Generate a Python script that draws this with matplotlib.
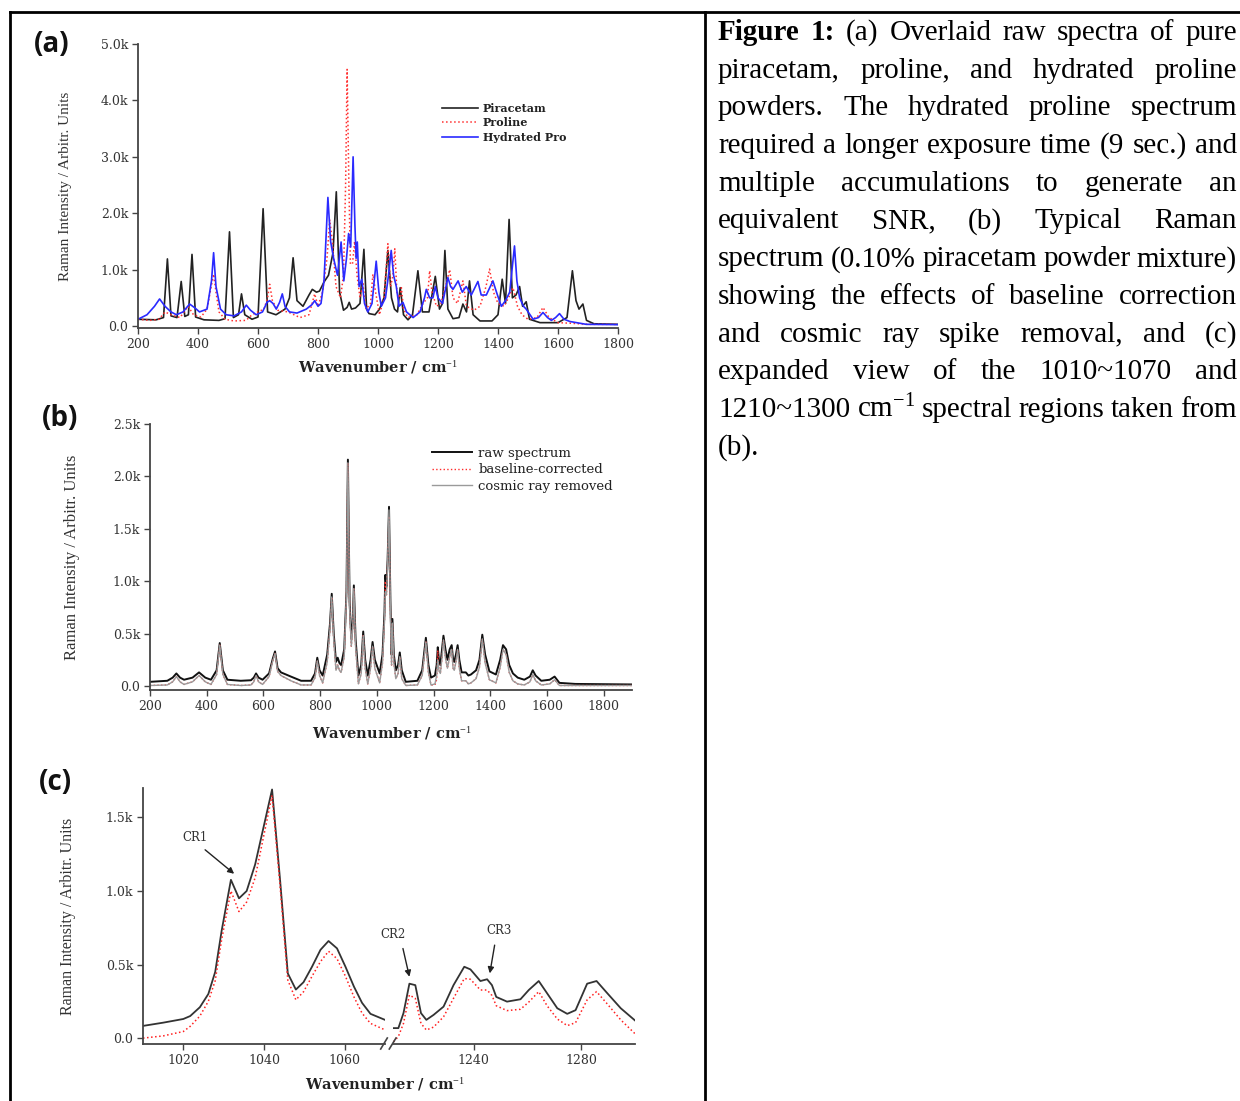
import numpy as np
import matplotlib.pyplot as plt
from matplotlib.lines import Line2D
from matplotlib.ticker import FuncFormatter

W, H = 1240, 1101

# ---------------- panel (a): raw spectra of the pure powders ----------------
wn_pir = [200, 260, 285, 298, 310, 330, 344, 356, 368, 380, 392, 420, 470, 490, 505, 518,
          535, 545, 556, 580, 600, 617, 632, 660, 690, 705, 717, 730, 750, 770, 781, 795,
          805, 820, 835, 850, 861, 872, 885, 897, 904, 912, 925, 940, 953, 962, 970, 990,
          1005, 1020, 1033, 1045, 1055, 1065, 1074, 1085, 1100, 1115, 1133, 1148, 1170, 1191,
          1205, 1215, 1223, 1233, 1250, 1270, 1283, 1295, 1305, 1317, 1340, 1380, 1400, 1414,
          1425, 1437, 1448, 1460, 1472, 1482, 1494, 1505, 1540, 1600, 1630, 1648, 1660, 1670,
          1683, 1695, 1720, 1800]
int_pir = [120, 110, 150, 1190, 180, 150, 790, 170, 200, 1270, 160, 110, 100, 130, 1670, 150,
           200, 570, 200, 120, 160, 2080, 250, 200, 300, 500, 1210, 450, 350, 550, 650, 600,
           620, 780, 900, 1300, 2380, 600, 280, 330, 420, 300, 320, 400, 1360, 300, 220, 200,
           300, 500, 1340, 500, 300, 250, 680, 200, 110, 200, 980, 250, 250, 880,
           300, 400, 1340, 300, 130, 150, 390, 250, 800, 200, 90, 90, 200, 830,
           400, 1890, 500, 550, 700, 350, 430, 120, 60, 60, 150, 980, 450, 300,
           390, 100, 40, 30]

wn_pro = [200, 240, 270, 290, 310, 340, 367, 385, 410, 430, 444, 452, 460, 470, 490, 520,
          560, 580, 600, 620, 632, 639, 648, 665, 700, 740, 770, 789, 800, 815, 830, 839,
          848, 860, 875, 885, 892, 897, 903, 908, 915, 922, 930, 940, 950, 960, 975, 983,
          992, 1005, 1020, 1033, 1042, 1050, 1056, 1063, 1072, 1078, 1085, 1100, 1130, 1150,
          1165, 1172, 1180, 1195, 1210, 1225, 1239, 1250, 1265, 1283, 1295, 1320, 1340, 1360,
          1372, 1385, 1400, 1420, 1435, 1450, 1465, 1480, 1500, 1530, 1550, 1570, 1600, 1640,
          1700, 1800]
int_pro = [120, 100, 120, 250, 200, 150, 350, 200, 160, 300, 700, 920, 600, 250, 120, 90,
           100, 200, 250, 300, 500, 740, 450, 280, 250, 150, 200, 570, 350, 600, 1200, 1880,
           1500, 700, 500, 900, 2500, 4550, 2500, 1100, 1100, 1500, 900, 500, 750, 300, 400, 920,
           600, 200, 500, 1460, 700, 900, 1370, 600, 500, 680, 300, 150, 200, 400,
           500, 980, 600, 350, 400, 700, 1000, 500, 400, 800, 350, 280, 350, 700,
           1010, 600, 400, 350, 500, 680, 350, 200, 120, 150, 330, 150, 60, 50,
           30, 30]

wn_hyd = [200, 230, 255, 272, 290, 310, 328, 350, 372, 390, 405, 430, 445, 452, 460, 475,
          494, 520, 545, 561, 575, 594, 615, 630, 639, 650, 661, 672, 681, 690, 705, 730,
          761, 780, 789, 800, 810, 820, 833, 842, 852, 865, 877, 886, 895, 902, 909, 917,
          923, 927, 931, 937, 946, 955, 966, 980, 994, 1003, 1011, 1025, 1035, 1044, 1052, 1061,
          1070, 1083, 1095, 1117, 1140, 1155, 1161, 1172, 1183, 1191, 1200, 1215, 1233, 1242,
          1250, 1267, 1281, 1294, 1311, 1333, 1344, 1361, 1383, 1395, 1411, 1425, 1439, 1455,
          1463, 1472, 1485, 1494, 1517, 1535, 1550, 1565, 1578, 1592, 1605, 1620, 1640, 1694,
          1800]
int_hyd = [120, 200, 350, 480, 350, 250, 200, 250, 390, 320, 250, 300, 800, 1300, 700, 300,
           200, 180, 250, 370, 280, 200, 250, 420, 450, 400, 300, 420, 570, 350, 250, 230,
           300, 380, 450, 350, 400, 800, 2280, 1500, 1200, 900, 1490, 800, 1200, 1640, 1400, 3000,
           1800, 1200, 1490, 700, 830, 400, 250, 400, 1150, 600, 350, 500, 900, 1340, 900, 700,
           350, 420, 250, 150, 250, 500, 650, 500, 500, 700, 500, 400, 860, 700,
           650, 800, 600, 700, 550, 790, 550, 550, 800, 600, 350, 450, 600, 1420,
           800, 500, 350, 300, 120, 150, 240, 150, 100, 150, 220, 120, 80, 30,
           25]

# ---------------- panel (b): 0.10% piracetam mixture ----------------
wn_b = [200, 261, 280, 293, 306, 320, 350, 373, 395, 415,
        435, 446, 457, 473, 520, 556, 566, 574, 583, 597,
        620, 633, 641, 650, 662, 697, 733, 768, 782, 790,
        798, 809, 825, 835, 841, 848, 856, 862, 868, 874,
        885, 893, 898, 904, 910, 915, 919, 925, 935, 945,
        952, 959, 968, 978, 985, 993, 1010, 1020, 1027, 1030,
        1034, 1038, 1043, 1048, 1052, 1055, 1060, 1067, 1075, 1081,
        1088, 1102, 1143, 1160, 1173, 1182, 1191, 1205, 1211, 1215,
        1219, 1224, 1230, 1235, 1242, 1249, 1257, 1264, 1269, 1273,
        1279, 1285, 1291, 1299, 1314, 1323, 1332, 1350, 1362, 1372,
        1382, 1397, 1420, 1435, 1445, 1456, 1467, 1480, 1497, 1520,
        1540, 1550, 1560, 1580, 1610, 1627, 1644, 1700, 1900]
raw_b = [40, 50, 80, 120, 80, 60, 80, 130, 80, 60,
         150, 410, 150, 60, 50, 55, 80, 120, 80, 60,
         120, 260, 330, 170, 130, 90, 50, 50, 120, 270,
         150, 100, 300, 600, 880, 500, 230, 270, 220, 200,
         350, 900, 2160, 800, 450, 600, 960, 450, 100, 200,
         520, 250, 100, 250, 420, 250, 120, 300, 700, 1060,
         950, 1200, 1710, 800, 300, 640, 300, 150, 200, 320,
         150, 40, 50, 150, 460, 200, 80, 100, 200, 370,
         250, 200, 350, 480, 350, 250, 350, 390, 250, 230,
         300, 390, 250, 130, 130, 100, 110, 150, 250, 490,
         300, 140, 110, 250, 390, 350, 200, 120, 80, 60,
         90, 150, 100, 50, 60, 90, 30, 20, 15]
corr_b = [5, 10, 40, 90, 40, 15, 40, 100, 40, 15,
          110, 390, 110, 15, 5, 10, 40, 100, 40, 15,
          90, 240, 310, 140, 100, 50, 10, 10, 80, 240,
          100, 30, 230, 550, 850, 440, 150, 200, 150, 130,
          280, 870, 2130, 750, 380, 550, 930, 380, 20, 120,
          480, 170, 20, 170, 380, 170, 30, 220, 620, 1000,
          870, 1180, 1620, 720, 200, 600, 220, 70, 120, 280,
          70, 5, 10, 100, 420, 130, 10, 10, 60, 340,
          150, 120, 270, 440, 270, 170, 280, 350, 170, 150,
          230, 350, 170, 50, 50, 20, 30, 70, 180, 450,
          220, 60, 30, 180, 350, 300, 130, 50, 20, 10,
          40, 110, 50, 10, 20, 60, 5, 5, 5]
crr_b = [5, 10, 40, 90, 40, 15, 40, 100, 40, 15,
         110, 390, 110, 15, 5, 10, 40, 100, 40, 15,
         90, 240, 310, 140, 100, 50, 10, 10, 80, 240,
         100, 30, 230, 550, 850, 440, 150, 200, 150, 130,
         280, 870, 2130, 750, 380, 550, 930, 380, 20, 120,
         480, 170, 20, 170, 380, 170, 30, 220, 620, 900,
         870, 1150, 1680, 720, 200, 600, 220, 70, 120, 280,
         70, 5, 10, 100, 420, 130, 10, 20, 100, 250,
         150, 120, 270, 440, 270, 170, 280, 350, 170, 150,
         230, 350, 170, 50, 50, 20, 30, 70, 180, 450,
         220, 60, 30, 180, 350, 300, 130, 50, 20, 10,
         40, 110, 50, 10, 20, 60, 5, 5, 5]

# ---------------- panel (c): expanded regions ----------------
wn_c_lo = [1010, 1015, 1020, 1021.7, 1024.1, 1026.2, 1027.9, 1029.5, 1031.8, 1033.8, 1035.7,
           1037.8, 1042, 1044, 1045.9, 1047.9, 1049.8, 1051.9, 1054, 1056, 1058.1, 1060.2,
           1062.3, 1064.3, 1066.4, 1070]
raw_c_lo = [83, 105, 130, 150, 210, 300, 450, 730, 1076, 950, 1000,
            1180, 1690, 1070, 440, 330, 380, 485, 600, 660, 610, 485,
            350, 240, 165, 124]
corr_c_lo = [0, 15, 45, 80, 150, 250, 390, 670, 1000, 860, 925,
             1090, 1650, 1030, 395, 260, 315, 420, 520, 590, 540, 420,
             280, 170, 100, 56]
wn_c_hi = [1210.2, 1212, 1213.9, 1216.1, 1218.3, 1220.4, 1222.4, 1225.1, 1228.8, 1232.5,
           1236.5, 1238.8, 1242.5, 1245, 1246.8, 1248.4, 1252.4, 1257.4, 1260.5, 1264.2,
           1267.3, 1271.1, 1274.8, 1277.9, 1282.2, 1285.7, 1289.7, 1294.7, 1300]
raw_c_hi = [68, 68, 170, 370, 360, 170, 124, 158, 214, 360,
            485, 467, 388, 400, 360, 280, 248, 264, 327, 388,
            305, 203, 165, 190, 370, 388, 305, 203, 120]
corr_c_hi = [-25, 11, 100, 293, 270, 100, 55, 75, 145, 270,
             405, 400, 327, 327, 290, 220, 187, 196, 245, 316,
             220, 130, 85, 105, 260, 316, 232, 124, 30]

caption_lines = [
    "Figure 1: (a) Overlaid raw spectra of pure",
    "piracetam, proline, and hydrated proline",
    "powders. The hydrated proline spectrum",
    "required a longer exposure time (9 sec.) and",
    "multiple accumulations to generate an",
    "equivalent SNR, (b) Typical Raman",
    "spectrum (0.10% piracetam powder mixture)",
    "showing the effects of baseline correction",
    "and cosmic ray spike removal, and (c)",
    "expanded view of the 1010~1070 and",
    "1210~1300 cm$^{-1}$ spectral regions taken from",
    "(b).",
]

plt.rcParams['font.family'] = 'DejaVu Serif'
plt.rcParams['mathtext.fontset'] = 'custom'
plt.rcParams['mathtext.rm'] = 'Liberation Serif'
plt.rcParams['mathtext.it'] = 'Liberation Serif:italic'
plt.rcParams['mathtext.bf'] = 'Liberation Serif:bold'

fig = plt.figure(figsize=(W / 100, H / 100), dpi=100)


def fx(x):
    return x / W


def fy(y):
    return 1 - y / H


def rect(l, t, r, b):
    return [l / W, 1 - b / H, (r - l) / W, (b - t) / H]


kfmt = FuncFormatter(lambda v, p: '0.0' if abs(v) < 1e-9 else f'{v / 1000:.1f}k')


def style(ax, left=True):
    for s in ['top', 'right']:
        ax.spines[s].set_visible(False)
    ax.spines['left'].set_visible(left)
    for s in ['left', 'bottom']:
        ax.spines[s].set_color('#444')
        ax.spines[s].set_linewidth(1.3)
    ax.tick_params(direction='out', length=4, width=1, color='#444',
                   labelcolor='#333', labelsize=9, pad=3)
    if not left:
        ax.tick_params(left=False, labelleft=False)
    ax.set_facecolor('none')


XLAB = 'Wavenumber / cm$^{-1}$'
YLAB = 'Raman Intensity / Arbitr. Units'

# ---- (a)
ax_a = fig.add_axes(rect(138, 44, 618, 328))
ax_a.plot(wn_pir, int_pir, color='#222', lw=1.2, label='Piracetam')
ax_a.plot(wn_pro, int_pro, color='#ff3030', lw=1.1, ls=':', label='Proline')
ax_a.plot(wn_hyd, int_hyd, color='#2a2aff', lw=1.2, label='Hydrated Pro')
ax_a.set_xlim(200, 1800)
ax_a.set_ylim(-35, 5000)
ax_a.set_xticks(range(200, 1801, 200))
ax_a.set_yticks(range(0, 5001, 1000))
ax_a.yaxis.set_major_formatter(kfmt)
style(ax_a)
ax_a.legend(loc='upper left', bbox_to_anchor=(fx(442), fy(103)), bbox_transform=fig.transFigure,
            frameon=False, borderpad=0, borderaxespad=0, handlelength=3.2, handletextpad=0.45,
            labelspacing=0.3, prop={'family': 'DejaVu Serif', 'weight': 'bold', 'size': 8},
            labelcolor='#222')

# ---- (b)
ax_b = fig.add_axes(rect(150, 424, 632, 690))
ax_b.plot(wn_b, raw_b, color='#111', lw=1.4, label='raw spectrum')
ax_b.plot(wn_b, corr_b, color='#ff2a2a', lw=1.0, ls=':', label='baseline-corrected')
ax_b.plot(wn_b, crr_b, color='#9a9a9a', lw=1.0, label='cosmic ray removed')
ax_b.set_xlim(200, 1900)
ax_b.set_ylim(-38, 2500)
ax_b.set_xticks(range(200, 1801, 200))
ax_b.set_yticks(range(0, 2501, 500))
ax_b.yaxis.set_major_formatter(kfmt)
style(ax_b)
ax_b.legend(loc='upper left', bbox_to_anchor=(fx(432), fy(447)), bbox_transform=fig.transFigure,
            frameon=False, borderpad=0, borderaxespad=0, handlelength=3.0, handletextpad=0.5,
            labelspacing=0.25, prop={'family': 'DejaVu Serif', 'size': 9.5}, labelcolor='#222')

# ---- (c) broken axis
ax_c1 = fig.add_axes(rect(143, 788, 385, 1044))
ax_c2 = fig.add_axes(rect(393, 788, 635, 1044))
for ax, wn, raw, corr in [(ax_c1, wn_c_lo, raw_c_lo, corr_c_lo), (ax_c2, wn_c_hi, raw_c_hi, corr_c_hi)]:
    ax.plot(wn, raw, color='#333', lw=1.3)
    ax.plot(wn, corr, color='#ff2020', lw=1.1, ls=':')
    ax.set_ylim(-40, 1700)
ax_c1.set_xlim(1010, 1070)
ax_c2.set_xlim(1210, 1300)
ax_c1.set_xticks([1020, 1040, 1060])
ax_c2.set_xticks([1240, 1280])
ax_c1.set_yticks(range(0, 1501, 500))
ax_c1.yaxis.set_major_formatter(kfmt)
style(ax_c1)
style(ax_c2, left=False)

arrow = dict(arrowstyle='-|>', color='#222', lw=1.0, mutation_scale=9, shrinkA=0, shrinkB=0)
ax_c1.annotate('', xy=(1032.6, 1117), xytext=(1025.4, 1280), arrowprops=arrow)
ax_c1.text(1022.9, 1365, 'CR1', ha='center', va='center', fontsize=8.5, color='#333')
ax_c2.annotate('', xy=(1216.1, 417), xytext=(1213.7, 609), arrowprops=arrow)
ax_c2.text(1209.9, 706, 'CR2', ha='center', va='center', fontsize=8.5, color='#333')
ax_c2.annotate('', xy=(1246.0, 440), xytext=(1247.8, 632), arrowprops=arrow)
ax_c2.text(1249.3, 729, 'CR3', ha='center', va='center', fontsize=8.5, color='#333')

for (xa, ya, xb, yb) in [(380.7, 1049, 387.3, 1038), (389.3, 1049, 396, 1038)]:
    fig.add_artist(Line2D([fx(xa), fx(xb)], [fy(ya), fy(yb)], transform=fig.transFigure,
                          color='#444', lw=1.2))

# ---- axis labels and panel letters
for (x, y, s) in [(378, 368, XLAB), (392, 734, XLAB), (385, 1085, XLAB)]:
    fig.text(fx(x), fy(y), s, ha='center', va='center', fontsize=10.5, weight='bold', color='#222')
for (x, y, s) in [(66, 186, 11), (72, 557, 12), (68, 916, 11.5)]:
    fig.text(fx(x), fy(y), YLAB, ha='center', va='center', rotation=90, fontsize=s,
             family='Liberation Serif', color='#333')
for (x, y, s) in [(52, 44, '(a)'), (60, 419, '(b)'), (55, 783, '(c)')]:
    fig.text(fx(x), fy(y), s, ha='center', va='center', fontsize=20, weight='bold',
             family=['Open Sans', 'DejaVu Sans'], color='#111')

# ---- frame
for xs, ys in [([10, 10], [12, 1101]), ([10, 1240], [12, 12]), ([705, 705], [12, 1101])]:
    fig.add_artist(Line2D([fx(v) for v in xs], [fy(v) for v in ys], transform=fig.transFigure,
                          color='k', lw=2))

# ---- justified caption
renderer = fig.canvas.get_renderer()
x0, x1 = 718, 1237
for i, line in enumerate(caption_lines):
    words = line.split(' ')
    base = 40 + i * 37.7
    texts = []
    for w in words:
        bold = i == 0 and w in ('Figure', '1:')
        texts.append(fig.text(0, fy(base), w, fontsize=21, family='Liberation Serif',
                              weight='bold' if bold else 'normal', va='baseline', ha='left',
                              color='k'))
    widths = [t.get_window_extent(renderer).width for t in texts]
    if i < len(caption_lines) - 1 and len(words) > 1:
        gap = (x1 - x0 - sum(widths)) / (len(words) - 1)
    else:
        gap = 7.3
    x = x0
    for t, w in zip(texts, widths):
        t.set_x(fx(x))
        x += w + gap

fig.savefig('out.png', dpi=100)
